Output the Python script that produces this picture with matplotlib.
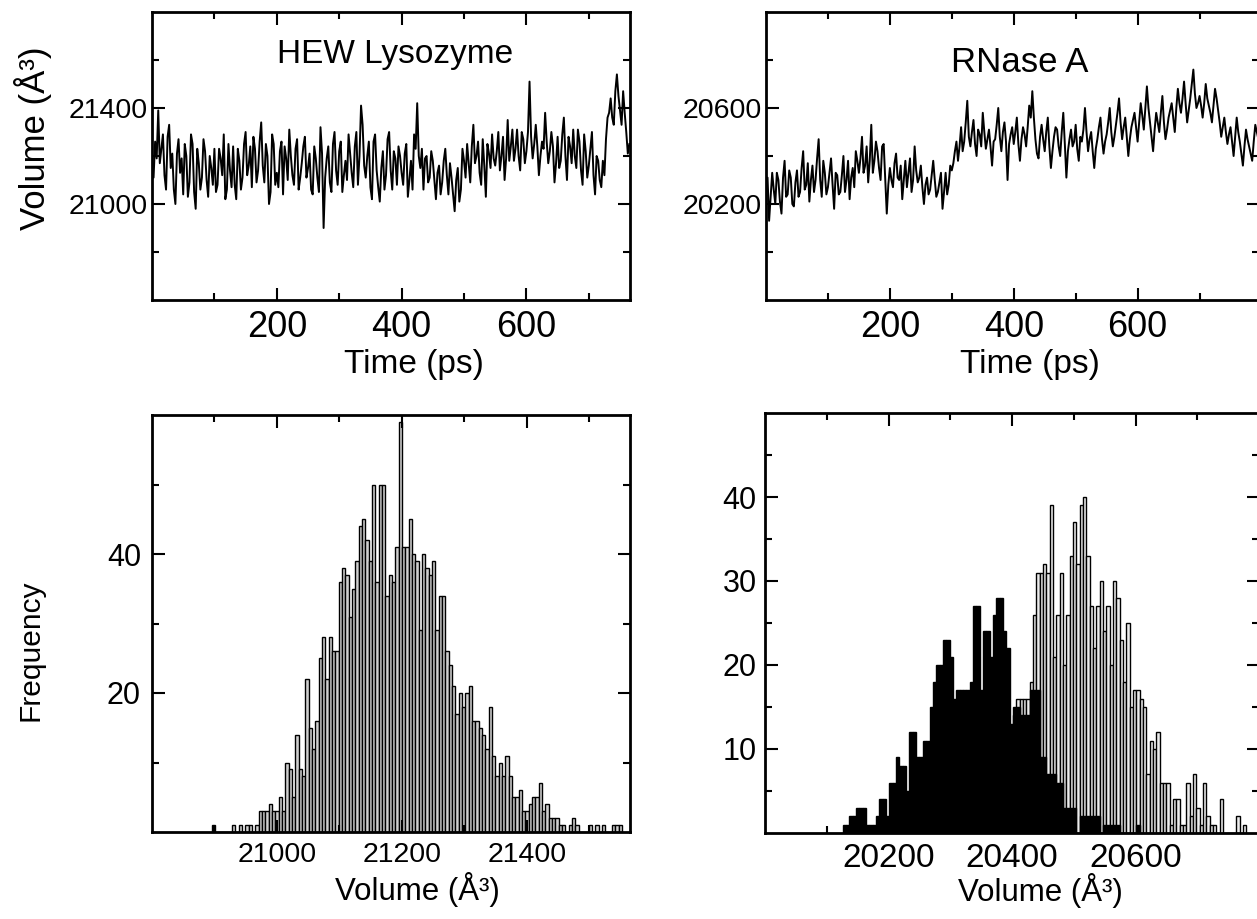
import matplotlib
matplotlib.use("Agg")
import matplotlib.pyplot as plt
import numpy as np
from matplotlib.ticker import FixedLocator

plt.rcParams['font.family'] = ['Liberation Sans', 'DejaVu Sans']

##########################################################
###################### Input Data ########################
##########################################################

# volume time series, 2.5 ps apart:
# the *_on values sit on the 5 ps grid, the *_mid values half way between
t_step = 2.5
hew_on = [
    21180, 21260, 21390, 21230, 21120, 21280, 21150, 21060, 21210, 21130,
    21040, 21200, 21090, 21250, 20980, 21170, 21110, 21220, 21030, 21150,
    21230, 21080, 21190, 21290, 21060, 21140, 21240, 21020, 21180, 21110,
    21300, 21160, 21070, 21230, 21140, 21340, 21090, 21200, 21050, 21250,
    21130, 21220, 21040, 21190, 21310, 21120, 21230, 21060, 21170, 21280,
    21150, 21060, 21240, 21110, 21320, 20900, 21190, 21090, 21250, 21140,
    21220, 21050, 21180, 21290, 21130, 21240, 21080, 21410, 21160, 21200,
    21070, 21260, 21140, 21010, 21220, 21120, 21300, 21060, 21190, 21240,
    21130, 21210, 21030, 21180, 21290, 21420, 21150, 21060, 21200, 21110,
    21180, 21020, 21160, 21090, 21230, 21040, 21110, 20970, 21150, 21060,
    21180, 21250, 21090, 21330, 21200, 21130, 21270, 21030, 21210, 21290,
    21160, 21300, 21200, 21100, 21350, 21240, 21180, 21310, 21140, 21270,
    21220, 21510, 21190, 21330, 21120, 21260, 21380, 21170, 21300, 21090,
    21280, 21180, 21360, 21100, 21240, 21310, 21150, 21260, 21080, 21220,
    21160, 21300, 21040, 21180, 21070, 21120, 21360, 21440, 21330, 21540,
    21390, 21470, 21300, 21250,
]
hew_mid = [
    21110, 21190, 21170, 21290, 21060, 21330, 21210, 21000, 21270, 21190,
    21250, 21030, 21290, 21050, 21230, 21060, 21270, 21100, 21200, 21080,
    21050, 21230, 21120, 21020, 21250, 21070, 21080, 21230, 21060, 21250,
    21120, 21240, 21280, 21090, 21260, 21160, 21250, 21000, 21290, 21080,
    21070, 21260, 21240, 21100, 21200, 21080, 21270, 21110, 21240, 21110,
    21210, 21040, 21190, 21050, 21210, 21110, 21240, 21050, 21300, 21080,
    21260, 21120, 21100, 21210, 21070, 21300, 21200, 21330, 21110, 21260,
    21020, 21290, 21070, 21150, 21060, 21270, 21140, 21220, 21080, 21200,
    21080, 21250, 21100, 21060, 21230, 21200, 21230, 21190, 21090, 21220,
    21100, 21130, 21040, 21180, 21120, 21170, 21040, 21100, 21010, 21230,
    21110, 21170, 21240, 21170, 21260, 21080, 21160, 21250, 21150, 21190,
    21220, 21140, 21280, 21190, 21180, 21310, 21230, 21200, 21300, 21170,
    21300, 21280, 21250, 21240, 21200, 21230, 21260, 21220, 21240, 21170,
    21150, 21290, 21200, 21280, 21170, 21200, 21310, 21140, 21290, 21110,
    21230, 21120, 21200, 21100, 21180, 21270, 21380, 21360, 21470, 21450,
    21330, 21380, 21210,
]
rnase_on = [
    20250, 20130, 20330, 20200, 20300, 20160, 20380, 20240, 20310, 20190,
    20340, 20250, 20420, 20280, 20210, 20360, 20300, 20470, 20230, 20330,
    20270, 20390, 20180, 20320, 20250, 20400, 20300, 20220, 20350, 20420,
    20330, 20480, 20360, 20290, 20530, 20380, 20420, 20300, 20450, 20160,
    20350, 20270, 20410, 20300, 20220, 20380, 20330, 20250, 20440, 20290,
    20360, 20200, 20310, 20260, 20380, 20230, 20290, 20180, 20330, 20280,
    20340, 20420, 20380, 20520, 20460, 20630, 20440, 20550, 20400, 20490,
    20580, 20430, 20510, 20360, 20470, 20600, 20420, 20540, 20300, 20490,
    20450, 20560, 20380, 20520, 20440, 20610, 20670, 20470, 20390, 20530,
    20420, 20560, 20350, 20480, 20510, 20400, 20580, 20310, 20470, 20440,
    20530, 20380, 20460, 20600, 20420, 20500, 20350, 20470, 20560, 20410,
    20490, 20600, 20440, 20530, 20640, 20470, 20560, 20400, 20520, 20580,
    20460, 20620, 20510, 20690, 20540, 20420, 20580, 20500, 20650, 20470,
    20560, 20620, 20500, 20680, 20580, 20710, 20540, 20640, 20760, 20600,
    20650, 20560, 20700, 20610, 20540, 20680, 20590, 20480, 20560, 20450,
    20520, 20400, 20560, 20460, 20360, 20510, 20440, 20380, 20530, 20470,
]
rnase_mid = [
    20310, 20230, 20260, 20330, 20210, 20310, 20230, 20340, 20200, 20290,
    20230, 20350, 20260, 20370, 20300, 20250, 20390, 20300, 20380, 20240,
    20330, 20280, 20330, 20240, 20320, 20250, 20380, 20310, 20270, 20380,
    20390, 20330, 20440, 20380, 20330, 20460, 20350, 20440, 20310, 20280,
    20300, 20370, 20310, 20360, 20300, 20270, 20390, 20300, 20340, 20310,
    20270, 20280, 20240, 20320, 20300, 20250, 20330, 20250, 20240, 20360,
    20370, 20460, 20440, 20420, 20540, 20480, 20500, 20450, 20510, 20440,
    20500, 20470, 20440, 20460, 20530, 20480, 20500, 20460, 20450, 20520,
    20500, 20450, 20470, 20490, 20520, 20560, 20560, 20410, 20480, 20470,
    20500, 20440, 20420, 20520, 20440, 20500, 20450, 20420, 20510, 20460,
    20430, 20480, 20510, 20500, 20470, 20420, 20430, 20520, 20470, 20460,
    20540, 20500, 20480, 20580, 20540, 20520, 20480, 20470, 20550, 20520,
    20540, 20570, 20600, 20600, 20480, 20510, 20540, 20580, 20540, 20510,
    20590, 20560, 20600, 20620, 20640, 20620, 20590, 20700, 20660, 20620,
    20610, 20620, 20640, 20580, 20610, 20640, 20540, 20520, 20500, 20490,
    20460, 20480, 20500, 20410, 20440, 20470, 20410, 20460, 20500,
]

# histogram of HEW lysozyme volume
hew_bin_start = 20896.0
hew_bin_width = 5.333
hew_counts = [
    1, 0, 0, 0, 0, 0, 1, 0, 1, 0, 1, 1, 0, 1,
    3, 3, 3, 4, 3, 3, 5, 3, 10, 9, 5, 14, 9, 8, 22, 15, 12, 16, 25, 28,
    22, 28, 26, 26, 36, 38, 37, 31, 35, 39, 44, 45, 42, 39, 50, 36, 50, 50, 34, 37,
    36, 41, 59, 41, 41, 45, 40, 39, 29, 40, 38, 37, 39, 29, 34, 34, 26, 24,
    21, 17, 20, 18, 20, 21, 16, 16, 15, 14, 12, 18, 11, 8, 10, 8, 11, 8, 5, 5,
    6, 3, 3, 4, 5, 5, 7, 3, 4, 2, 2, 2,
    1, 1, 0, 1, 2, 1, 0, 0, 0, 1, 0, 1, 0, 1, 0, 0, 1, 1, 1,
]

# histograms of RNase A volume: first part (black) and second part (white)
rnase_bin_start = 20126.0
rnase_bin_width = 5.4
rnase_counts_black = [
    1, 1, 2, 2, 3, 3, 3, 1, 1, 1,
    2, 4, 4, 2, 6, 6, 9, 8, 8, 5,
    12, 12, 9, 9, 11, 11, 15, 18, 20, 20,
    23, 23, 21, 16, 17, 17, 17, 17, 18, 27,
    27, 17, 24, 24, 21, 26, 28, 28, 24, 22,
    13, 15, 15, 14, 14, 14, 17, 17, 17, 9,
    9, 7, 7, 7, 6, 6, 3, 3, 3, 3,
    0, 2, 2, 2, 2, 2, 2, 0, 1, 1,
    1, 1, 1, 0, 0, 0, 0, 0, 1,
]
rnase_counts_white = [
    0, 0, 0, 0, 0, 0, 0, 0, 0, 0,
    0, 0, 0, 0, 0, 0, 0, 0, 0, 0,
    0, 0, 0, 0, 0, 1, 0, 1, 2, 1,
    2, 3, 2, 3, 4, 3, 5, 4, 6, 5,
    7, 8, 6, 9, 10, 9, 11, 12, 11, 13,
    12, 14, 16, 16, 16, 16, 18, 26, 31, 31,
    32, 31, 39, 21, 26, 31, 20, 26, 33, 37,
    32, 39, 40, 33, 27, 22, 27, 30, 24, 27,
    20, 30, 28, 23, 18, 25, 15, 17, 17, 16,
    15, 7, 11, 10, 12, 6, 6, 6, 1, 4,
    4, 1, 1, 6, 2, 7, 3, 1, 6, 2,
    1, 1, 0, 4, 0, 0, 0, 0, 2, 0, 1,
]

##########################################################
####################### Plotting #########################
##########################################################


def merge(on, mid):
    out = np.empty(len(on) + len(mid))
    out[0::2] = on
    out[1::2] = mid
    return out


hew_volume = merge(hew_on, hew_mid)
rnase_volume = merge(rnase_on, rnase_mid)

W, H = 1257, 919
fig = plt.figure(figsize=(W / 100, H / 100), dpi=100)


def axes_px(left, right, top, bottom):
    return fig.add_axes([left / W, 1 - bottom / H, (right - left) / W, (bottom - top) / H])


def style(ax, xmaj, xmin, ymaj, ymin, xsize, ysize):
    ax.xaxis.set_major_locator(FixedLocator(xmaj))
    ax.xaxis.set_minor_locator(FixedLocator(xmin))
    ax.yaxis.set_major_locator(FixedLocator(ymaj))
    ax.yaxis.set_minor_locator(FixedLocator(ymin))
    ax.tick_params(which='both', direction='in', top=True, right=True, width=1.5)
    ax.tick_params(which='major', length=9)
    ax.tick_params(which='minor', length=5)
    ax.tick_params(axis='x', labelsize=xsize, pad=7)
    ax.tick_params(axis='y', labelsize=ysize, pad=3)
    for s in ax.spines.values():
        s.set_linewidth(2)


# --- top left: HEW lysozyme volume vs time
ax1 = axes_px(152, 630, 12, 300)
ax1.plot(np.arange(len(hew_volume)) * t_step, hew_volume, color='black', lw=1.4)
ax1.set_xlim(0, 766)
ax1.set_ylim(20600, 21800)
style(ax1, [200, 400, 600], [100, 300, 500, 700],
      [21000, 21400], [20800, 21200, 21600], 26, 20.5)
ax1.set_xlabel('Time (ps)', fontsize=24)
ax1.xaxis.set_label_coords(0.548, -0.17)
ax1.set_ylabel('Volume (Å³)', fontsize=25)
ax1.yaxis.set_label_coords(-0.21, 0.56)
ax1.text(0.509, 0.854, 'HEW Lysozyme', transform=ax1.transAxes,
         ha='center', va='center', fontsize=24)

# --- top right: RNase A volume vs time
ax2 = axes_px(766, 1259, 12, 300)
ax2.plot(np.arange(len(rnase_volume)) * t_step, rnase_volume, color='black', lw=1.4)
ax2.set_xlim(0, 796)
ax2.set_ylim(19800, 21000)
style(ax2, [200, 400, 600], [100, 300, 500, 700],
      [20200, 20600], [20000, 20400, 20800], 26, 20.5)
ax2.set_xlabel('Time (ps)', fontsize=24)
ax2.xaxis.set_label_coords(0.535, -0.17)
ax2.text(0.515, 0.823, 'RNase A', transform=ax2.transAxes,
         ha='center', va='center', fontsize=25)

# --- bottom left: histogram of HEW lysozyme volume
ax3 = axes_px(152, 630, 415, 832)
hew_edges = hew_bin_start + hew_bin_width * np.arange(len(hew_counts))
ax3.bar(hew_edges, hew_counts, width=hew_bin_width, align='edge',
        facecolor='#cfcfcf', edgecolor='black', linewidth=1.0)
ax3.set_xlim(20800, 21565)
ax3.set_ylim(0, 60)
style(ax3, [21000, 21200, 21400], [20900, 21100, 21300, 21500],
      [20, 40], [10, 30, 50], 20.5, 22)
ax3.tick_params(axis='y', pad=8)
ax3.set_xlabel('Volume (Å³)', fontsize=22.5)
ax3.xaxis.set_label_coords(0.555, -0.095)
ax3.set_ylabel('Frequency', fontsize=21.5)
ax3.yaxis.set_label_coords(-0.225, 0.436)

# --- bottom right: histograms of RNase A volume
ax4 = axes_px(765, 1259, 413, 833)
rn_edges_w = rnase_bin_start + rnase_bin_width * np.arange(len(rnase_counts_white))
rn_edges_b = rnase_bin_start + rnase_bin_width * np.arange(len(rnase_counts_black))
ax4.bar(rn_edges_w, rnase_counts_white, width=rnase_bin_width, align='edge',
        facecolor='#ececec', edgecolor='black', linewidth=1.0, zorder=2)
ax4.bar(rn_edges_b, rnase_counts_black, width=rnase_bin_width, align='edge',
        facecolor='black', edgecolor='black', linewidth=1.0, zorder=3)
ax4.set_xlim(20000, 20800)
ax4.set_ylim(0, 50)
style(ax4, [20200, 20400, 20600], [20100, 20300, 20500, 20700],
      [10, 20, 30, 40], [5, 15, 25, 35, 45], 24, 22)
ax4.tick_params(axis='y', pad=6)
ax4.set_xlabel('Volume (Å³)', fontsize=22.5)
ax4.xaxis.set_label_coords(0.557, -0.095)

fig.savefig('out.png', dpi=100)
